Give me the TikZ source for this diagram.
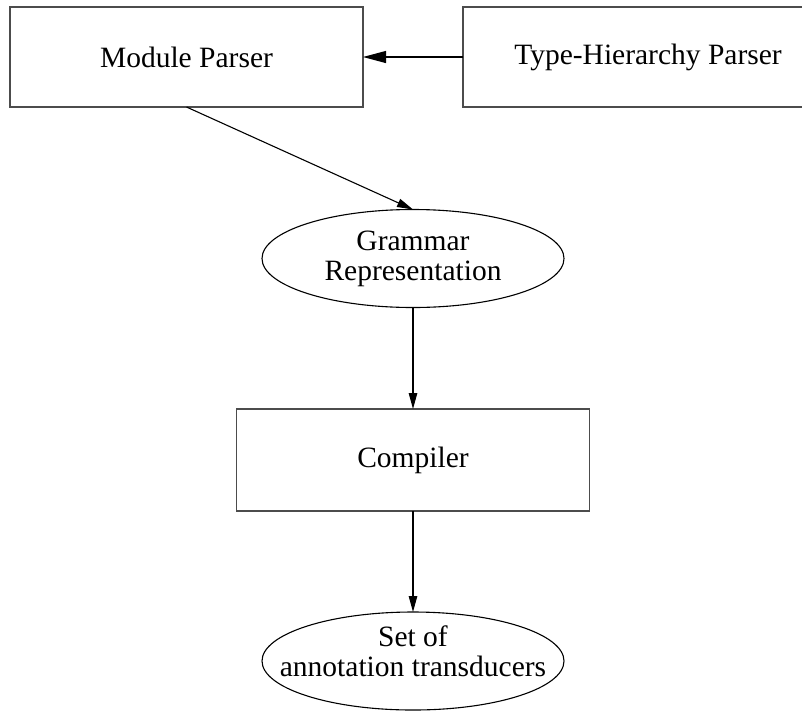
\documentclass[tikz,border=0pt]{standalone}
\usepackage{fontspec}
\setmainfont{Liberation Serif}
\usetikzlibrary{shapes.geometric,arrows.meta}

\begin{document}
\begin{tikzpicture}[
  x=1pt, y=-1pt,
  every node/.style={outer sep=0pt, inner sep=0pt, font=\fontsize{29.5}{30}\selectfont, align=center},
  procbox/.style={draw=black!70, line width=1.8pt, rectangle, minimum height=100pt},
  dataoval/.style={draw=black, line width=1.1pt, ellipse, minimum width=302pt, minimum height=98pt},
  flow/.style={draw=black, line width=1.1pt, -{Triangle[length=16pt, width=8.5pt]}},
  bigflow/.style={draw=black, line width=1.1pt, -{Triangle[length=23pt, width=12pt]}}
]
\useasboundingbox (0,0) rectangle (802,710);
\clip (0,0) rectangle (802,710);

% processing stages
\node[procbox, minimum width=353pt] (modparser) at (186.5,57) {Module Parser};
\node[procbox, minimum width=370pt] (typeparser) at (648,57) {Type-Hierarchy Parser};
\node[procbox, minimum width=353pt, minimum height=102pt] (compiler) at (413,460) {Compiler};

% intermediate and final data
\node[dataoval] (grammar) at (413,258.5) {Grammar\\Representation};
\node[dataoval] (transducers) at (413,661) {};
\node (transtext) at (413,651) {Set of\\annotation transducers};

% data flow
\draw[bigflow] (typeparser.west) -- (modparser.east);
\draw[flow] (modparser.south) -- (grammar.north);
\draw[flow] (grammar.south) -- (compiler.north);
\draw[flow] (compiler.south) -- (transducers.north);
\end{tikzpicture}
\end{document}
